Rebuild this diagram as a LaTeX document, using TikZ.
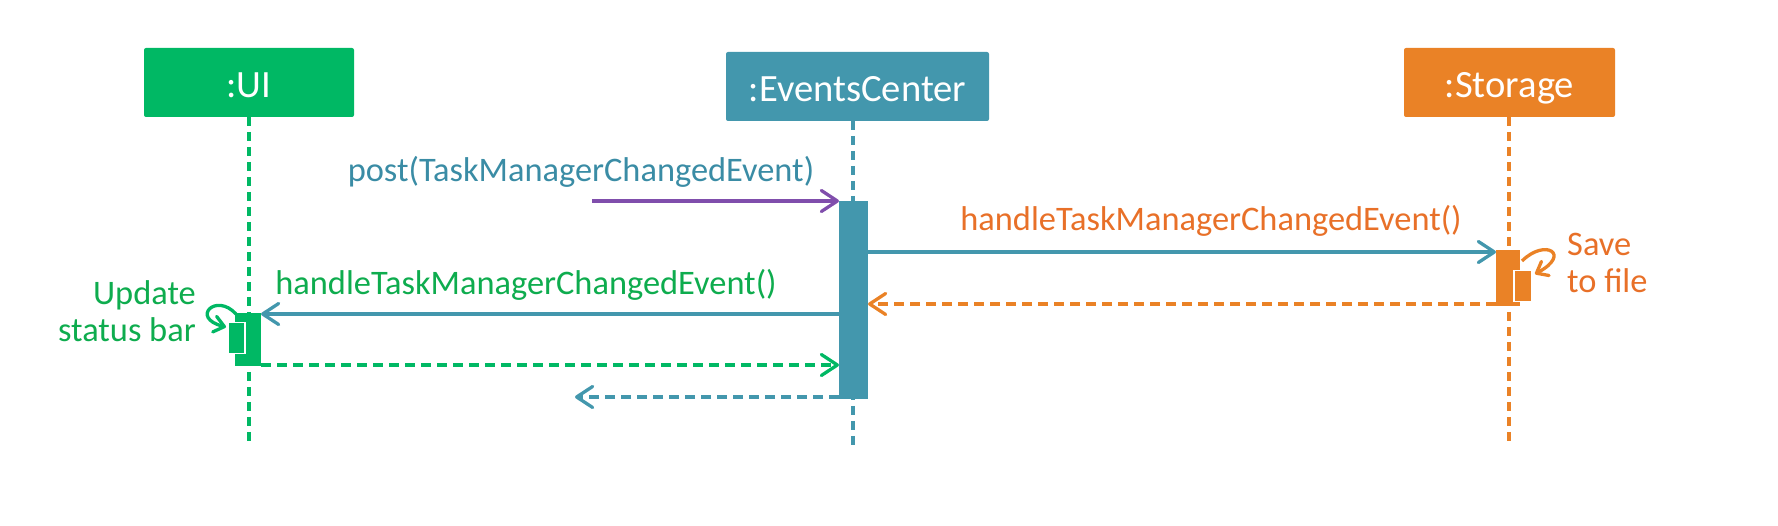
\documentclass[tikz,border=0pt]{standalone}
\usepackage{fontspec}
\setmainfont{Carlito}
\usetikzlibrary{arrows.meta}
\definecolor{cgreen}{RGB}{0,184,100}
\definecolor{cgreentxt}{RGB}{14,172,78}
\definecolor{cteal}{RGB}{67,151,173}
\definecolor{ctealtxt}{RGB}{58,140,165}
\definecolor{corange}{RGB}{234,130,38}
\definecolor{corangetxt}{RGB}{232,112,40}
\definecolor{cpurple}{RGB}{128,78,172}
\tikzset{
  actor/.style={rectangle, rounded corners=2pt, inner sep=0pt, text=white,
    font=\fontsize{38.6}{42}\selectfont, text height=31pt, text depth=0pt},
  lbl/.style={inner sep=0pt, font=\fontsize{34.4}{39}\selectfont},
  life/.style={line width=3.2pt, dash pattern=on 9pt off 6pt},
  bar/.style={rectangle, inner sep=0pt, anchor=north west},
  subbar/.style={rectangle, inner sep=0pt, anchor=north west, draw=white, line width=1.5pt},
  msg/.style={line width=3.3pt, -{Straight Barb[length=16pt,width=21pt,round]}},
  retmsg/.style={msg, dash pattern=on 10pt off 6pt},
  selfmsg/.style={line width=3.3pt, -{Straight Barb[length=10pt,width=16pt,round]}},
}
\begin{document}
\begin{tikzpicture}[x=1pt,y=-1pt]
\useasboundingbox (0,0) rectangle (1778,526);
% actors
\node[actor, fill=cgreen, minimum width=210pt, minimum height=69pt] (ui) at (249,82.5) {:UI};
\node[actor, fill=cteal, minimum width=263pt, minimum height=69pt] (ec) at (857.5,86.5) {:EventsCenter};
\node[actor, fill=corange, minimum width=211pt, minimum height=69pt] (st) at (1509.5,82.5) {:Storage};
% lifeline ends
\coordinate (uiend) at (249,446);
\coordinate (ecend) at (853,446);
\coordinate (stend) at (1509,446);
\coordinate (uitop) at (249,117);
\coordinate (ectop) at (853,121);
\coordinate (sttop) at (1509,117);
\draw[life, cgreen] (uitop) -- (uiend);
\draw[life, cteal] (ectop) -- (ecend);
\draw[life, corange] (sttop) -- (stend);
% activation bars
\node[bar, fill=cgreen, minimum width=26pt, minimum height=53pt] (uibar) at (235,313) {};
\node[subbar, fill=cgreen, minimum width=17pt, minimum height=31pt] (uisub) at (227,322) {};
\node[bar, fill=cteal, minimum width=29pt, minimum height=198pt] (ecbar) at (839,201) {};
\node[bar, fill=corange, minimum width=24pt, minimum height=56pt] (stbar) at (1496,250) {};
\node[subbar, fill=corange, minimum width=18pt, minimum height=31pt] (stsub) at (1513,270) {};
% message end points
\coordinate (postfrom) at (592,201);
\coordinate (m2a) at (868,252);
\coordinate (m2b) at (1496,252);
\coordinate (m3a) at (1496,304);
\coordinate (m3b) at (868,304);
\coordinate (m4a) at (839,314);
\coordinate (m4b) at (261,314);
\coordinate (m5a) at (261,365);
\coordinate (m5b) at (839,365);
\coordinate (m6a) at (839,397);
\coordinate (m6b) at (575,397);
\draw[msg, cpurple] (postfrom) -- (ecbar.north west);
\draw[msg, cteal] (m2a) -- (m2b);
\draw[retmsg, corange] (m3a) -- (m3b);
\draw[msg, cteal] (m4a) -- (m4b);
\draw[retmsg, cgreen] (m5a) -- (m5b);
\draw[retmsg, cteal] (m6a) -- (m6b);
% self calls
\coordinate (uis1) at (236,314);
\coordinate (uis2) at (226,327);
\draw[selfmsg, cgreen] (uis1) .. controls (216,292) and (190,318) .. (uis2);
\coordinate (sts1) at (1522,261);
\coordinate (sts2) at (1535,274);
\draw[selfmsg, corange] (sts1) .. controls (1545,238) and (1572,254) .. (sts2);
% labels
\node[lbl, text=ctealtxt, anchor=base] (postlbl) at (581,182) {post(TaskManagerChangedEvent)};
\node[lbl, text=corangetxt, anchor=base] (m2lbl) at (1211,231) {handleTaskManagerChangedEvent()};
\node[lbl, text=cgreentxt, anchor=base] (m4lbl) at (526,295) {handleTaskManagerChangedEvent()};
\node[lbl, text=cgreentxt, anchor=base east] (upd1) at (196,305) {Update};
\node[lbl, text=cgreentxt, anchor=base east] (upd2) at (196,342) {status bar};
\node[lbl, text=corangetxt, anchor=base west] (save1) at (1567,256) {Save};
\node[lbl, text=corangetxt, anchor=base west] (save2) at (1567,293) {to file};
\end{tikzpicture}
\end{document}
